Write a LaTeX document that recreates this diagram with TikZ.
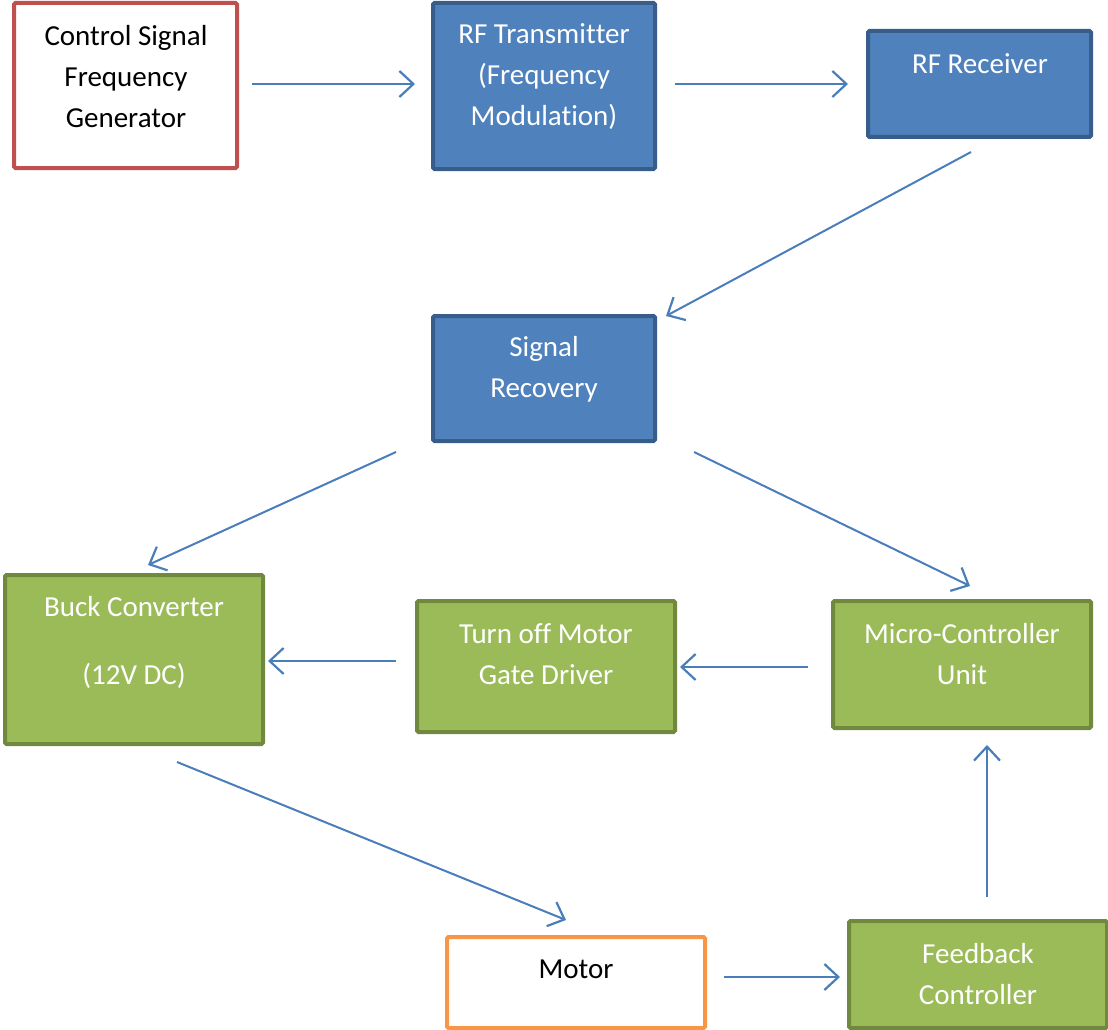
\documentclass[tikz,border=0pt]{standalone}
\usepackage{fontspec}
\setmainfont{Carlito}[Ligatures={NoCommon,NoContextual,NoRequired},RawFeature={-calt,-clig}]
\usetikzlibrary{arrows.meta}
\definecolor{bfill}{HTML}{4F81BD}
\definecolor{bline}{HTML}{385D8A}
\definecolor{gfill}{HTML}{9BBB59}
\definecolor{gline}{HTML}{71893F}
\definecolor{rline}{HTML}{C0504D}
\definecolor{oline}{HTML}{F79646}
\definecolor{arr}{HTML}{4A7EBB}
\tikzset{
  box/.style={draw, line width=4pt, rounded corners=1.5pt, inner sep=0pt},
  bluebox/.style={box, fill=bfill, draw=bline},
  greenbox/.style={box, fill=gfill, draw=gline},
  whitered/.style={box, fill=white, draw=rline},
  whiteorange/.style={box, fill=white, draw=oline},
  txt/.style={inner sep=0pt, align=center, font=\fontsize{29}{41}\selectfont},
  wtxt/.style={txt, text=white},
  conn/.style={draw=arr, line width=2pt, -{Straight Barb[length=14pt, width=26pt, line width=2.2pt]}},
}
\begin{document}
\begin{tikzpicture}[x=1pt,y=-1pt]
\useasboundingbox (0,0) rectangle (1108,1030);
% boxes
\path[whitered] (14,3) rectangle (237,168);
\node[txt] (t1) at (126,77) {Control Signal\\Frequency\\Generator};
\path[bluebox] (433,3) rectangle (655,169);
\node[wtxt] (t2) at (544,77) {RF Transmit\kern0pt ter\\(Frequency\\Modulat\kern0pt ion)};
\path[bluebox] (868,31) rectangle (1091,137);
\node[wtxt] (t3) at (980,64) {RF Receiver};
\path[bluebox] (433,316) rectangle (655,441);
\node[wtxt] (t4) at (544,369) {Signal\\Recovery};
\path[greenbox] (5,575) rectangle (263,744);
\node[wtxt, font=\fontsize{29}{34}\selectfont] (t5) at (134,642) {Buck Converter\\[0pt]\strut\\(12V DC)};
\path[greenbox] (417,601) rectangle (675,732);
\node[wtxt] (t6) at (546,654) {Turn off Motor\\Gate Driver};
\path[greenbox] (833,601) rectangle (1091,728);
\node[wtxt] (t7) at (962,654) {Micro-Controller\\Unit};
\path[whiteorange] (447,937) rectangle (705,1028);
\node[txt] (t8) at (576,969) {Motor};
\path[greenbox] (849,921) rectangle (1107,1028);
\node[wtxt] (t9) at (978,974) {Feedback\\Controller};
% connector end points
\coordinate (a1s) at (252,84);  \coordinate (a1e) at (415,84);
\coordinate (a2s) at (675,84);  \coordinate (a2e) at (848,84);
\coordinate (a3s) at (971,152); \coordinate (a3e) at (666,316);
\coordinate (a4s) at (396,452); \coordinate (a4e) at (148,565);
\coordinate (a5s) at (694,452); \coordinate (a5e) at (970,586);
\coordinate (a6s) at (396,661); \coordinate (a6e) at (268,661);
\coordinate (a7s) at (808,667); \coordinate (a7e) at (680,667);
\coordinate (a8s) at (987,897); \coordinate (a8e) at (987,745);
\coordinate (a9s) at (177,762); \coordinate (a9e) at (566,920);
\coordinate (a10s) at (724,977); \coordinate (a10e) at (840,977);
\draw[conn] (a1s) -- (a1e);
\draw[conn] (a2s) -- (a2e);
\draw[conn] (a3s) -- (a3e);
\draw[conn] (a4s) -- (a4e);
\draw[conn] (a5s) -- (a5e);
\draw[conn] (a6s) -- (a6e);
\draw[conn] (a7s) -- (a7e);
\draw[conn] (a8s) -- (a8e);
\draw[conn] (a9s) -- (a9e);
\draw[conn] (a10s) -- (a10e);
\end{tikzpicture}
\end{document}
